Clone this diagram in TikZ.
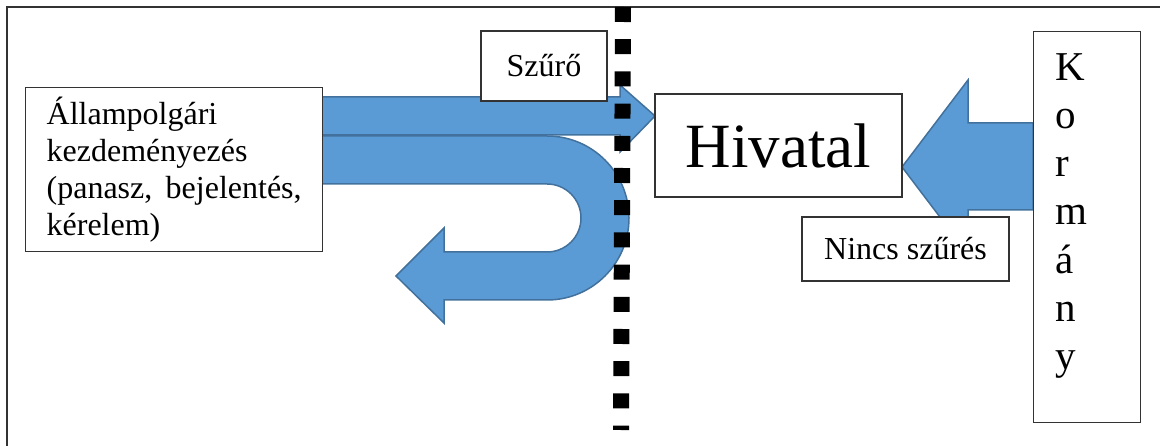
\documentclass[tikz,border=0pt]{standalone}
\usepackage{fontspec}
\setmainfont{Liberation Serif}
\definecolor{arrowfill}{HTML}{5B9BD5}
\definecolor{arrowline}{HTML}{41719C}
\tikzset{
  box/.style={draw=black!80, line width=1.3pt, fill=white, inner sep=0pt},
  blockarrow/.style={fill=arrowfill, draw=arrowline, line width=1.5pt, line join=miter},
}
\begin{document}
\begin{tikzpicture}[x=1pt, y=-1pt, font=\fontsize{32}{36.8}\selectfont]
  \useasboundingbox (0,0) rectangle (1160,446);

  % frame ---------------------------------------------------
  \draw[black!80, line width=1.3pt] (1160,7) -- (7,7) -- (7,446);

  % block arrows --------------------------------------------
  \draw[blockarrow] (320,97) -- (620,97) -- (620,85) -- (655,116)
        -- (620,152) -- (620,135) -- (320,135) -- cycle;
  \draw[blockarrow] (320,136) -- (547,136)
        arc[start angle=90, end angle=-90, radius=82pt]
        -- (444,300) -- (444,323) -- (396,276) -- (444,228) -- (444,252)
        -- (547,252) arc[start angle=-90, end angle=90, radius=34pt]
        -- (320,184) -- cycle;
  \draw[blockarrow] (1033,123) -- (968,123) -- (968,80) -- (902,167)
        -- (968,254) -- (968,210) -- (1033,210) -- cycle;

  % border line ---------------------------------------------
  \draw[line width=16pt, dash pattern=on 15pt off 17.2pt] (623,7) -- (621,430);

  % boxes ---------------------------------------------------
  \node[box, anchor=north west, text width=255pt, inner xsep=21pt,
        minimum height=164pt, align=left] (polgar) at (25,87)
        {Állampolgári\\ kezdeményezés\\ (panasz,\hfill bejelentés,\\ kérelem)};
  \node[box, minimum width=126pt, minimum height=70pt] (szuro) at (544,66) {Szűrő};
  \node[box, minimum width=247pt, minimum height=103pt,
        font=\fontsize{63}{72}\selectfont] (hivatal) at (778.5,145.5) {Hivatal};
  \node[box, minimum width=207pt, minimum height=64pt] (nincs) at (905.5,249)
        {Nincs szűrés};
  \node[box, anchor=north west, minimum width=107pt, minimum height=391pt]
        (korm) at (1033,31) {};
  \node[anchor=north west, inner sep=0pt, align=left,
        font=\fontsize{41}{48.3}\selectfont] (kormtxt)
        at ([xshift=22pt, yshift=-22pt]korm.north west)
        {K\\ o\\ r\\ m\\ á\\ n\\ y};

\end{tikzpicture}
\end{document}
